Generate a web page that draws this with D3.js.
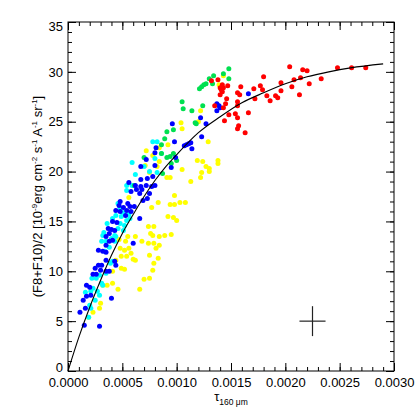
<!DOCTYPE html>
<meta charset="utf-8">
<style>
  body { margin: 0; background: #fff; }
  svg text { font-family: "Liberation Sans", Arial, sans-serif; }
</style>
<script src="https://d3js.org/d3.v7.min.js"></script>
<div id="chart"></div>
<script>

// points, [tau160, (F8+F10)/2]
var red = [
  [0.00204,30.5],[0.00248,30.4],[0.00261,30.4],[0.00274,30.4],[0.00216,30.2],[0.00220,30.1],
  [0.00180,29.5],[0.00208,29.2],[0.00214,29.4],[0.00233,29.3],[0.00196,28.9],[0.00222,28.8],
  [0.00206,28.5],[0.00196,28.1],[0.00177,28.6],[0.00179,28.2],[0.00171,28.3],[0.00159,28.5],
  [0.00156,27.9],[0.00158,27.7],[0.00172,27.3],[0.00183,27.6],[0.00191,27.6],[0.00193,27.4],
  [0.00186,27.1],[0.00213,27.7],[0.00138,29.2],[0.00132,29.1],[0.00140,28.4],[0.00143,28.4],
  [0.00147,28.6],[0.00142,28.0],[0.00140,27.7],[0.00146,27.3],[0.00145,26.8],[0.00143,26.4],
  [0.00135,26.6],[0.00148,25.7],[0.00144,25.1],[0.00154,25.8],[0.00156,25.4],[0.00156,27.0],
  [0.00156,26.6],[0.00166,25.9],[0.00157,24.6],[0.00156,24.3],[0.00163,23.9],[0.00142,28.7],
  [0.00141,28.2]
];

var green = [
  [0.00148,30.3],[0.00143,29.8],[0.00134,29.6],[0.00130,29.3],[0.00127,28.8],[0.00125,28.7],
  [0.00123,28.5],[0.00121,28.3],[0.00133,28.8],[0.00148,29.3],[0.00105,27.0],[0.00106,26.3],
  [0.00114,26.1],[0.00124,26.6],[0.00117,24.9],[0.00118,24.8],[0.00097,24.2],[0.00091,24.0],
  [0.00089,23.3],[0.00086,22.7],[0.00070,21.4],[0.00091,21.4],[0.00094,21.5],[0.00095,20.8],
  [0.00097,21.8],[0.00100,21.1],[0.00087,19.8],[0.00086,21.8],[0.00061,18.6]
];

var yellow = [
  [0.00143,29.6],[0.00139,28.7],[0.00122,26.1],[0.00104,24.9],[0.00120,25.0],[0.00105,24.3],
  [0.00129,23.0],[0.00119,21.1],[0.00124,21.0],[0.00138,21.1],[0.00138,20.8],[0.00127,20.5],
  [0.00130,20.3],[0.00130,20.0],[0.00123,19.9],[0.00122,19.4],[0.00113,19.0],[0.00105,20.2],
  [0.00094,19.4],[0.00091,19.4],[0.00098,17.6],[0.00094,16.7],[0.00098,16.7],[0.00103,16.9],
  [0.00108,16.9],[0.00083,16.9],[0.00077,16.4],[0.00092,15.5],[0.00097,15.4],[0.00100,15.1],
  [0.00074,14.5],[0.00079,14.5],[0.00076,13.8],[0.00078,13.6],[0.00084,13.5],[0.00089,13.6],
  [0.00095,13.7],[0.00079,12.8],[0.00084,12.6],[0.00074,12.8],[0.00068,13.0],[0.00062,13.5],
  [0.00055,13.5],[0.00053,13.0],[0.00047,13.2],[0.00056,12.3],[0.00052,12.1],[0.00058,11.8],
  [0.00060,11.2],[0.00062,11.1],[0.00054,11.5],[0.00049,11.5],[0.00048,12.3],[0.00044,11.1],
  [0.00049,10.3],[0.00052,10.2],[0.00081,12.3],[0.00083,11.3],[0.00075,11.6],[0.00079,10.8],
  [0.00078,10.1],[0.00075,9.3],[0.00070,9.2],[0.00066,8.2],[0.00046,8.2],[0.00041,10.0],
  [0.00036,8.6],[0.00032,8.6],[0.00030,6.8],[0.00029,6.3],[0.00023,5.9],[0.00019,5.4],
  [0.00072,22.1],[0.00084,22.4],[0.00092,22.7],[0.00078,21.6],[0.00084,21.0],[0.00071,20.6],
  [0.00082,20.5],[0.00075,19.9],[0.00056,17.4],[0.00041,8.8]
];

var cyan = [
  [0.00078,23.0],[0.00082,23.0],[0.00086,21.8],[0.00080,21.3],[0.00059,20.9],[0.00070,20.5],
  [0.00075,20.0],[0.00062,19.7],[0.00082,19.9],[0.00054,18.6],[0.00059,18.6],[0.00054,18.1],
  [0.00046,16.8],[0.00048,16.3],[0.00051,15.9],[0.00044,15.6],[0.00049,15.5],[0.00056,15.7],
  [0.00041,15.3],[0.00054,15.1],[0.00057,15.3],[0.00048,14.8],[0.00052,14.6],[0.00051,14.1],
  [0.00046,14.3],[0.00043,13.6],[0.00036,14.8],[0.00033,13.9],[0.00032,13.6],[0.00040,13.3],
  [0.00043,13.0],[0.00044,13.5],[0.00035,13.0],[0.00034,12.0],[0.00031,13.0],[0.00038,12.4],
  [0.00022,9.3],[0.00026,9.3],[0.00029,9.6],[0.00031,8.8],[0.00032,8.6],[0.00016,7.9],
  [0.00021,8.0],[0.00023,8.3],[0.00027,8.0],[0.00029,7.6],[0.00025,7.1],[0.00020,6.6],
  [0.00021,6.3],[0.00019,5.4],[0.00039,10.8],[0.00041,11.0],[0.00035,9.8]
];

var blue = [
  [0.00166,27.8],[0.00137,26.8],[0.00139,26.6],[0.00140,26.4],[0.00137,26.1],[0.00122,25.4],
  [0.00127,24.8],[0.00123,23.5],[0.00096,24.8],[0.00098,23.0],[0.00107,22.6],[0.00109,22.7],
  [0.00111,22.8],[0.00113,22.9],[0.00114,22.3],[0.00081,22.4],[0.00080,21.9],[0.00072,21.2],
  [0.00067,20.5],[0.00080,20.6],[0.00099,21.4],[0.00095,20.4],[0.00078,19.5],[0.00073,19.3],
  [0.00067,19.2],[0.00056,18.9],[0.00062,18.6],[0.00067,18.5],[0.00072,18.6],[0.00077,18.5],
  [0.00080,18.6],[0.00063,18.2],[0.00068,18.2],[0.00075,17.8],[0.00073,17.3],[0.00069,17.1],
  [0.00058,18.0],[0.00066,17.8],[0.00048,17.0],[0.00047,16.6],[0.00051,16.4],[0.00055,16.8],
  [0.00057,16.5],[0.00061,16.5],[0.00058,16.0],[0.00053,15.6],[0.00054,16.1],[0.00048,16.0],
  [0.00044,16.1],[0.00041,15.0],[0.00045,14.9],[0.00037,14.3],[0.00040,14.2],[0.00043,14.1],
  [0.00038,13.8],[0.00035,13.5],[0.00038,13.0],[0.00041,13.1],[0.00028,12.1],[0.00032,12.0],
  [0.00035,12.6],[0.00035,11.9],[0.00035,11.1],[0.00066,15.3],[0.00060,12.8],[0.00043,11.0],
  [0.00044,10.6],[0.00028,10.6],[0.00031,10.6],[0.00035,10.0],[0.00025,10.3],[0.00030,10.1],
  [0.00038,10.0],[0.00023,9.7],[0.00026,9.7],[0.00017,8.6],[0.00020,8.4],[0.00014,7.1],
  [0.00017,7.5],[0.00021,7.6],[0.00016,6.3],[0.00011,5.9],[0.00015,4.6],[0.00029,4.5],
  [0.00040,7.3]
];

// fitted curve
var curveX = [0, 0.0001, 0.0002, 0.0003, 0.0004, 0.0005, 0.0006, 0.0007, 0.0008, 0.0009,
              0.0010, 0.0012, 0.0014, 0.0016, 0.0018, 0.0020, 0.0022, 0.0024, 0.0026, 0.0029];
var curveY = [0, 3.4, 6.4, 9.1, 11.6, 13.8, 15.7, 17.5, 19.1, 20.5,
              21.7, 23.9, 25.5, 26.9, 27.9, 28.8, 29.5, 30.0, 30.4, 30.8];

// typical error bar
var errPoint = [0.00225, 5];
var errSize = [0.00012, 1.5];

var xTicks = [0, 0.0005, 0.0010, 0.0015, 0.0020, 0.0025, 0.0030];
var yTicks = [0, 5, 10, 15, 20, 25, 30, 35];

var W = 415, H = 415;
var margin = {top: 22, right: 21, bottom: 44, left: 68};
var pL = margin.left, pR = W - margin.right, pT = margin.top, pB = H - margin.bottom;

var svg = d3.select("#chart").append("svg")
    .attr("width", W)
    .attr("height", H);

var x = d3.scaleLinear().domain([0, 0.003]).range([pL, pR]);
var y = d3.scaleLinear().domain([0, 35]).range([pB, pT]);

var xMinor = d3.range(0, 31).map(function(i) { return i * 0.0001; });
var yMinor = d3.range(0, 36);

// points
var groups = [
  {data: yellow, color: "#ffff00"},
  {data: cyan, color: "#00ffff"},
  {data: green, color: "#00e050"},
  {data: blue, color: "#0000ff"},
  {data: red, color: "#ff0000"}
];
groups.forEach(function(g) {
  svg.append("g").selectAll("circle")
    .data(g.data)
    .enter().append("circle")
      .attr("cx", function(d) { return x(d[0]); })
      .attr("cy", function(d) { return y(d[1]); })
      .attr("r", 2.5)
      .attr("fill", g.color);
});

// curve
var line = d3.line()
  .x(function(d) { return x(d[0]); })
  .y(function(d) { return y(d[1]); })
  .curve(d3.curveMonotoneX);
svg.append("path")
  .datum(curveX.map(function(v, i) { return [v, curveY[i]]; }))
  .attr("d", line)
  .attr("fill", "none")
  .attr("stroke", "#000")
  .attr("stroke-width", 1.1);

// error cross
var ec = svg.append("g").attr("stroke", "#222").attr("stroke-width", 1.2);
ec.append("line")
  .attr("x1", x(errPoint[0] - errSize[0])).attr("x2", x(errPoint[0] + errSize[0]))
  .attr("y1", y(errPoint[1])).attr("y2", y(errPoint[1]));
ec.append("line")
  .attr("x1", x(errPoint[0])).attr("x2", x(errPoint[0]))
  .attr("y1", y(errPoint[1] - errSize[1])).attr("y2", y(errPoint[1] + errSize[1]));

// axes, ticks pointing inwards on all four sides
function addAxis(axis, tx, ty) {
  var g = svg.append("g")
    .attr("transform", "translate(" + tx + "," + ty + ")")
    .call(axis);
  g.select(".domain").remove();
  g.selectAll("line").attr("stroke", "#000");
  g.selectAll("text").attr("fill", "#000").style("font-size", "13px");
  return g;
}

addAxis(d3.axisBottom(x).tickValues(xTicks).tickFormat(d3.format(".4f")).tickSize(-8).tickPadding(7), 0, pB);
addAxis(d3.axisBottom(x).tickValues(xMinor).tickFormat("").tickSize(-4), 0, pB);
addAxis(d3.axisTop(x).tickValues(xTicks).tickFormat("").tickSize(-8), 0, pT);
addAxis(d3.axisTop(x).tickValues(xMinor).tickFormat("").tickSize(-4), 0, pT);

var yAx = addAxis(d3.axisLeft(y).tickValues(yTicks).tickFormat(d3.format("d")).tickSize(-8).tickPadding(5), pL, 0);
// end labels sit a little inside the frame, as in the original
yAx.selectAll("text")
  .attr("dy", function(d) { return d === 0 ? "0" : (d === 35 ? "0.65em" : "0.32em"); });
addAxis(d3.axisLeft(y).tickValues(yMinor).tickFormat("").tickSize(-4), pL, 0);
addAxis(d3.axisRight(y).tickValues(yTicks).tickFormat("").tickSize(-8), pR, 0);
addAxis(d3.axisRight(y).tickValues(yMinor).tickFormat("").tickSize(-4), pR, 0);

// frame
svg.append("rect")
  .attr("x", pL).attr("y", pT)
  .attr("width", pR - pL).attr("height", pB - pT)
  .attr("fill", "none").attr("stroke", "#000").attr("stroke-width", 1);

// x title: tau with subscript
var xt = svg.append("text")
  .attr("x", (pL + pR) / 2)
  .attr("y", 401)
  .attr("text-anchor", "middle")
  .style("font-size", "13px");
xt.append("tspan").text("τ");
xt.append("tspan").attr("dy", 4).style("font-size", "8.5px").text("160 μm");

// y title with superscripts
var yt = svg.append("text")
  .attr("transform", "translate(42," + ((pT + pB) / 2) + ") rotate(-90)")
  .attr("text-anchor", "middle")
  .style("font-size", "13px");
var parts = [
  ["(F8+F10)/2 [10", 0], ["-9", 1], ["erg cm", 0], ["-2", 1], [" s", 0], ["-1", 1],
  [" A", 0], ["-1", 1], [" sr", 0], ["-1", 1], ["]", 0]
];
var lift = 0;
parts.forEach(function(p) {
  var dy = p[1] ? -5 - lift : -lift;
  lift = p[1] ? -5 : 0;
  yt.append("tspan")
    .attr("dy", dy)
    .style("font-size", p[1] ? "8px" : "13px")
    .text(p[0]);
});

</script>
